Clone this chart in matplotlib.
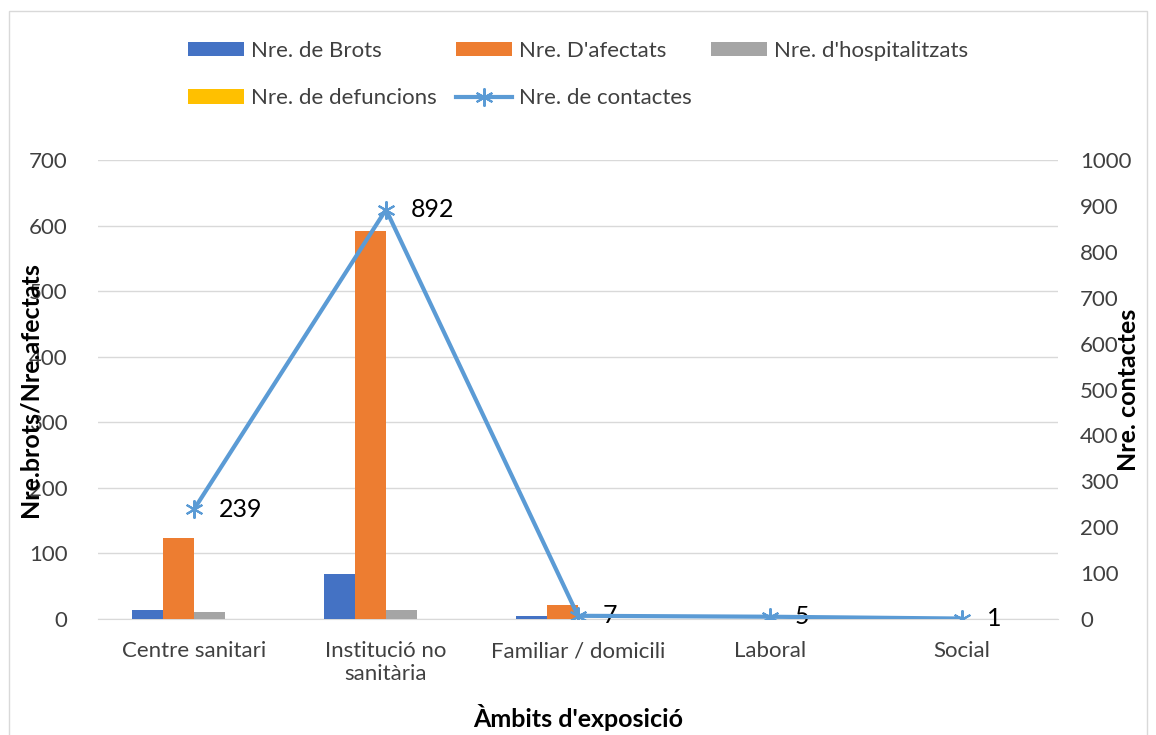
import numpy as np
import matplotlib.pyplot as plt
from matplotlib.patches import Rectangle

# dades
ambits = ["Centre sanitari", "Institució no\nsanitària", "Familiar / domicili", "Laboral", "Social"]
brots = [14, 69, 4, 0, 0]
afectats = [123, 592, 21, 0, 0]
hospitalitzats = [10, 13, 0, 0, 0]
defuncions = [0, 0, 0, 0, 0]
contactes = [239, 892, 7, 5, 1]

plt.rcParams['font.family'] = ['Lato', 'DejaVu Sans']

fig = plt.figure(figsize=(11.56, 7.35), dpi=100)
ax = fig.add_axes([0.0848, 0.1578, 0.8304, 0.6245])
ax2 = ax.twinx()

x = np.arange(len(ambits))
w = 0.161
colors = ['#4472C4', '#ED7D31', '#A5A5A5', '#FFC000']
series = [brots, afectats, hospitalitzats, defuncions]
names = ["Nre. de Brots", "Nre. D'afectats", "Nre. d'hospitalitzats", "Nre. de defuncions"]
bars = []
for i, (s, c, n) in enumerate(zip(series, colors, names)):
    b = ax.bar(x + (i - 1.5) * w, s, w, color=c, label=n, zorder=3)
    bars.append(b)

line, = ax2.plot(x, contactes, color='#5B9BD5', lw=3, marker=(6, 2, 0), ms=13,
                 mew=1.5, label="Nre. de contactes", zorder=4)
for xi, v in zip(x, contactes):
    ax2.annotate(str(v), (xi, v), xytext=(18, 0), textcoords='offset points',
                 va='center', ha='left', fontsize=18, color='#000000')

ax.set_xlim(-0.5, len(ambits) - 0.5)
ax.set_ylim(0, 700)
ax2.set_ylim(0, 1000)
ax.set_yticks(np.arange(0, 701, 100))
ax2.set_yticks(np.arange(0, 1001, 100))
ax.set_xticks(x)
ax.set_xticklabels(ambits, fontsize=15.5, color='#404040')
ax.grid(axis='y', color='#D9D9D9', lw=1, zorder=0)
ax.set_axisbelow(True)
for a in (ax, ax2):
    for sp in a.spines.values():
        sp.set_visible(False)
    a.tick_params(length=0, labelsize=16, colors='#404040')
ax.tick_params(axis='y', pad=22)
ax2.tick_params(axis='y', pad=16)
ax.tick_params(axis='x', pad=16)
ax.spines['bottom'].set_visible(True)
ax.spines['bottom'].set_color('#D9D9D9')

# etiquetes dels eixos (com a l'original, s'encavalquen una mica amb les xifres)
fig.text(0.026, 0.47, "Nre.brots/Nre.afectats", rotation=90, ha='center', va='center',
         fontsize=18, fontweight='bold')
fig.text(0.976, 0.47, "Nre. contactes", rotation=90, ha='center', va='center',
         fontsize=18, fontweight='bold')
ax.set_xlabel("Àmbits d'exposició", fontsize=18, fontweight='bold', labelpad=14)

handles = [bars[0], bars[3], bars[1], line, bars[2]]
labels = [h.get_label() for h in handles]
fig.legend(handles, labels, ncol=3, loc='upper center', bbox_to_anchor=(0.5, 0.972),
           frameon=False, fontsize=16, handlelength=2.5, handleheight=0.6,
           columnspacing=0.9, handletextpad=0.3, labelspacing=1.25, labelcolor='#404040')

fig.patches.append(Rectangle((0.008, -0.01), 0.984, 0.995, transform=fig.transFigure,
                             fill=False, edgecolor='#D9D9D9', lw=1))

fig.savefig('out.png', dpi=100)
